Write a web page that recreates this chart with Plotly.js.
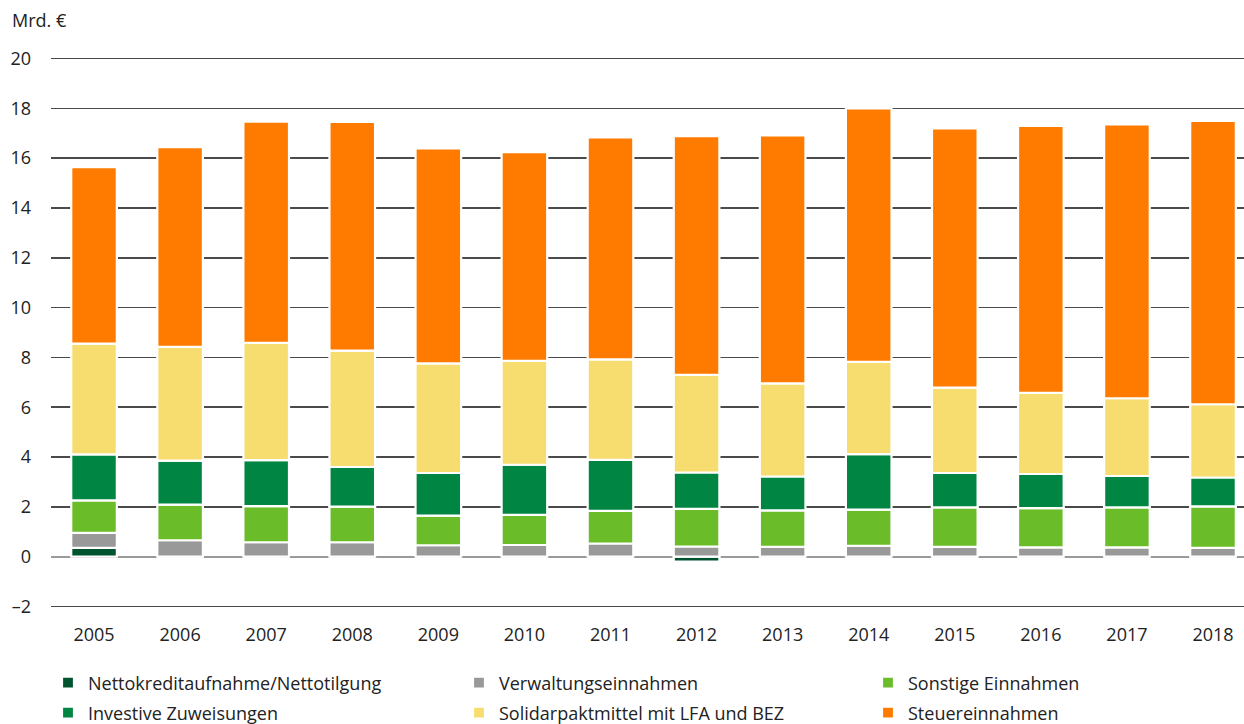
<!DOCTYPE html>
<html>
<head>
<meta charset="utf-8">
<script src="https://cdn.plot.ly/plotly-3.0.1.min.js"></script>
<style>
  html, body { margin: 0; padding: 0; background: #fff; }
  #chart { width: 1244px; height: 724px; }
</style>
</head>
<body>
<div id="chart"></div>
<script>
const years = ["2005","2006","2007","2008","2009","2010","2011","2012","2013","2014","2015","2016","2017","2018"];

const nettokredit   = [0.35, 0, 0, 0, 0, 0, 0, -0.20, 0, 0, 0, 0, 0, 0];
const verwaltung    = [0.61, 0.66, 0.58, 0.58, 0.46, 0.47, 0.53, 0.41, 0.40, 0.44, 0.39, 0.37, 0.37, 0.35];
const sonstige      = [1.30, 1.43, 1.45, 1.43, 1.19, 1.21, 1.31, 1.51, 1.46, 1.45, 1.59, 1.58, 1.61, 1.67];
const investive     = [1.85, 1.77, 1.85, 1.59, 1.71, 2.01, 2.05, 1.46, 1.36, 2.23, 1.38, 1.37, 1.26, 1.16];
const solidarpakt   = [4.44, 4.56, 4.70, 4.67, 4.40, 4.17, 4.03, 3.92, 3.74, 3.70, 3.43, 3.26, 3.12, 2.94];
const steuer        = [7.09, 8.02, 8.88, 9.18, 8.63, 8.38, 8.91, 9.58, 9.95, 10.18, 10.40, 10.71, 10.99, 11.37];

const seriesNames = [
  "Nettokreditaufnahme/Nettotilgung",
  "Verwaltungseinnahmen",
  "Sonstige Einnahmen",
  "Investive Zuweisungen",
  "Solidarpaktmittel mit LFA und BEZ",
  "Steuereinnahmen"
];
const seriesValues = [nettokredit, verwaltung, sonstige, investive, solidarpakt, steuer];
const seriesColors = ["#00532F", "#999999", "#6ABD28", "#008542", "#F7DD70", "#FF7B00"];

const yTicks = [-2, 0, 2, 4, 6, 8, 10, 12, 14, 16, 18, 20];
const yAxisUnit = "Mrd. €";

const FONT = "'Open Sans', 'Noto Sans', sans-serif";
const W = 1244, H = 724;

// legend slots: column x (px) and row y (px), one legend per series
const legendCols = [48, 459, 868];
const legendRows = [683, 713];
const legendIds = ["legend", "legend2", "legend3", "legend4", "legend5", "legend6"];

const traces = seriesNames.map((name, i) => ({
  type: "bar",
  name: name,
  x: years,
  y: seriesValues[i],
  showlegend: true,
  marker: { color: seriesColors[i], line: { color: "#ffffff", width: 2.2 } },
  legend: legendIds[i],
  hoverinfo: "x+y+name"
}));

const layout = {
  width: W,
  height: H,
  showlegend: true,
  margin: { l: 51, r: 0, t: 56, b: 115, pad: 0 },
  paper_bgcolor: "#ffffff",
  plot_bgcolor: "#ffffff",
  barmode: "relative",
  bargap: 0.47,
  font: { family: FONT, size: 18, color: "#222" },
  xaxis: {
    type: "category",
    range: [-0.5, 13.36],
    showgrid: false,
    showline: false,
    zeroline: false,
    ticks: "",
    tickfont: { family: FONT, size: 18, color: "#222" },
    ticklabelstandoff: 13,
    fixedrange: true
  },
  yaxis: {
    range: [-2.1, 20.1],
    tickvals: yTicks,
    ticktext: yTicks.map(v => v < 0 ? "–" + Math.abs(v) : String(v)),
    showgrid: true,
    gridcolor: "#4a4a4a",
    gridwidth: 1.6,
    zeroline: true,
    zerolinecolor: "#9a9a9a",
    zerolinewidth: 2.2,
    showline: false,
    ticks: "",
    ticklabelstandoff: 19,
    tickfont: { family: FONT, size: 18, color: "#222" },
    fixedrange: true
  },
  annotations: [{
    text: yAxisUnit,
    xref: "paper", yref: "paper",
    x: 0, y: 1,
    xshift: -41, yshift: 36,
    xanchor: "left", yanchor: "middle",
    showarrow: false,
    font: { family: FONT, size: 18, color: "#222" }
  }]
};

legendIds.forEach((id, i) => {
  layout[id] = {
    visible: true,
    orientation: "h",
    xref: "container",
    yref: "container",
    x: legendCols[i % 3] / W,
    y: (H - legendRows[Math.floor(i / 3)]) / H,
    xanchor: "left",
    yanchor: "middle",
    font: { family: FONT, size: 18, color: "#222" },
    bgcolor: "rgba(0,0,0,0)",
    itemclick: false,
    itemdoubleclick: false
  };
});

Plotly.newPlot("chart", traces, layout, { displayModeBar: false, staticPlot: true });
</script>
</body>
</html>
